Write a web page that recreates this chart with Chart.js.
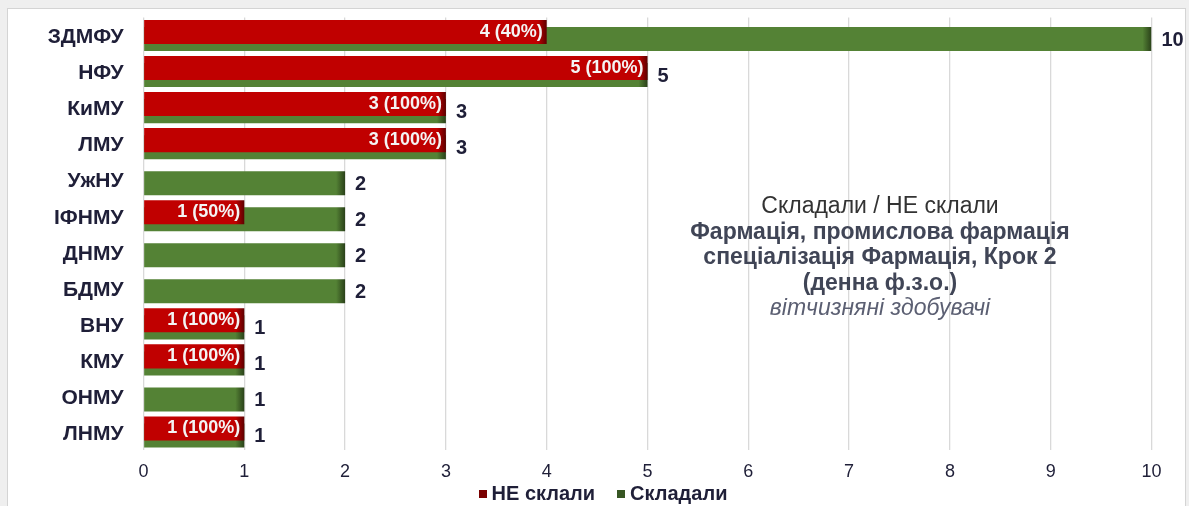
<!DOCTYPE html>
<html>
<head>
<meta charset="utf-8">
<script src="https://cdn.jsdelivr.net/npm/chart.js@4"></script>
<style>
  html, body { margin: 0; padding: 0; overflow: hidden; background: #efefef; }
  #wrap { position: relative; width: 1189px; height: 506px; }
  #panel { position: absolute; left: 7px; top: 8px; width: 1177px; height: 520px;
           background: #fff; border: 1px solid #d4d4d4; }
  #chart { position: absolute; left: 0; top: 0; }
  #note { position: absolute; left: 630px; top: 193px; width: 500px; text-align: center;
          font-family: "Liberation Sans", Arial, sans-serif; font-size: 23px; line-height: 25.5px; color: #333; }
  #note b { color: #404556; }
  #note i { color: #5b5f72; }
  #legend { position: absolute; left: 403px; width: 400px; top: 481px; height: 24px;
            display: flex; justify-content: center; align-items: center; gap: 22px;
            font-family: "Liberation Sans", Arial, sans-serif; font-size: 20px; font-weight: bold; color: #1f1f38; }
  #legend span.item { display: flex; align-items: center; white-space: nowrap; }
  #legend span.box { display: inline-block; width: 8px; height: 8px; margin-right: 5px; margin-top: 2px; }
</style>
</head>
<body>
<div id="wrap">
  <div id="panel"></div>
  <canvas id="chart" width="1189" height="506"></canvas>
  <div id="note">
    Складали / НЕ склали<br>
    <b>Фармація, промислова фармація<br>спеціалізація Фармація, Крок 2<br>(денна ф.з.о.)</b><br>
    <i>вітчизняні здобувачі</i>
  </div>
  <div id="legend"></div>
</div>
<script>
// Дані з діаграми
const universities = ['ЗДМФУ', 'НФУ', 'КиМУ', 'ЛМУ', 'УжНУ', 'ІФНМУ', 'ДНМУ', 'БДМУ', 'ВНУ', 'КМУ', 'ОНМУ', 'ЛНМУ'];
const failed = [4, 5, 3, 3, 0, 1, 0, 0, 1, 1, 0, 1];   // НЕ склали
const took = [10, 5, 3, 3, 2, 2, 2, 2, 1, 1, 1, 1];    // Складали
const xTicks = [0, 1, 2, 3, 4, 5, 6, 7, 8, 9, 10];

const FONT = '"Liberation Sans", Arial, sans-serif';
const TEXT = '#1f1f38';

// градієнт на кінці смуги (темніший край справа)
function barFill(base, dark) {
    return function(ctx) {
        const chart = ctx.chart;
        const xs = chart.scales.x;
        if (!xs || !chart.chartArea) return base;
        const x0 = xs.getPixelForValue(0);
        const x1 = xs.getPixelForValue(ctx.raw || 0);
        if (x1 - x0 < 12) return base;
        const g = chart.ctx.createLinearGradient(x0, 0, x1, 0);
        g.addColorStop(0, base);
        g.addColorStop((x1 - x0 - 9) / (x1 - x0), base);
        g.addColorStop(1, dark);
        return g;
    };
}

// підписи значень
const valueLabels = {
    id: 'valueLabels',
    afterDatasetsDraw(chart) {
        const ctx = chart.ctx;
        ctx.save();
        ctx.textBaseline = 'middle';
        chart.getDatasetMeta(1).data.forEach((bar, i) => {
            ctx.font = 'bold 20px ' + FONT;
            ctx.fillStyle = TEXT;
            ctx.textAlign = 'left';
            ctx.fillText(String(took[i]), bar.x + 10, bar.y + 1);
        });
        chart.getDatasetMeta(0).data.forEach((bar, i) => {
            if (!failed[i]) return;
            const pct = Math.round(failed[i] / took[i] * 100);
            ctx.font = 'bold 18px ' + FONT;
            ctx.fillStyle = '#f4f4f4';
            ctx.textAlign = 'right';
            ctx.fillText(failed[i] + ' (' + pct + '%)', bar.x - 4, bar.y);
        });
        ctx.restore();
    }
};

// легенда в HTML (з даних графіка)
const htmlLegend = {
    id: 'htmlLegend',
    afterUpdate(chart) {
        const box = document.getElementById('legend');
        box.innerHTML = '';
        chart.data.datasets.forEach(d => {
            const item = document.createElement('span');
            item.className = 'item';
            const sq = document.createElement('span');
            sq.className = 'box';
            sq.style.background = d.legendColor;
            item.appendChild(sq);
            item.appendChild(document.createTextNode(d.label));
            box.appendChild(item);
        });
    }
};

const chart = new Chart(document.getElementById('chart'), {
    type: 'bar',
    data: {
        labels: universities,
        datasets: [{
            label: 'НЕ склали',
            data: failed,
            backgroundColor: barFill('#c00000', '#5e0000'),
            legendColor: '#7a0000',
            categoryPercentage: 0.389,
            barPercentage: 3.43
        }, {
            label: 'Складали',
            data: took,
            backgroundColor: barFill('#548235', '#2a4119'),
            legendColor: '#375623',
            categoryPercentage: 0.389,
            barPercentage: 3.43
        }]
    },
    options: {
        indexAxis: 'y',
        responsive: false,
        animation: false,
        layout: { padding: { left: 10, right: 37.5, top: 17.5, bottom: 21.5 } },
        scales: {
            x: {
                min: 0,
                max: 10,
                afterBuildTicks: (scale) => { scale.ticks = xTicks.map(v => ({ value: v })); },
                afterFit: (scale) => { scale.height = 34.5; },
                grid: { color: '#d9d9d9', lineWidth: 1.3, drawTicks: false },
                border: { display: false },
                ticks: { padding: 11, color: TEXT, font: { family: FONT, size: 18 } }
            },
            y: {
                afterFit: (scale) => {
                    scale.width = 133.5;
                    scale.paddingTop = 0;
                    scale.paddingBottom = 0;
                },
                grid: { display: false, drawTicks: false },
                border: { display: false },
                ticks: { padding: 20, labelOffset: 2, color: TEXT, font: { family: FONT, size: 21, weight: 'bold' } }
            }
        },
        plugins: {
            tooltip: { enabled: false },
            legend: { display: false }
        }
    },
    plugins: [valueLabels, htmlLegend]
});
</script>
</body>
</html>
